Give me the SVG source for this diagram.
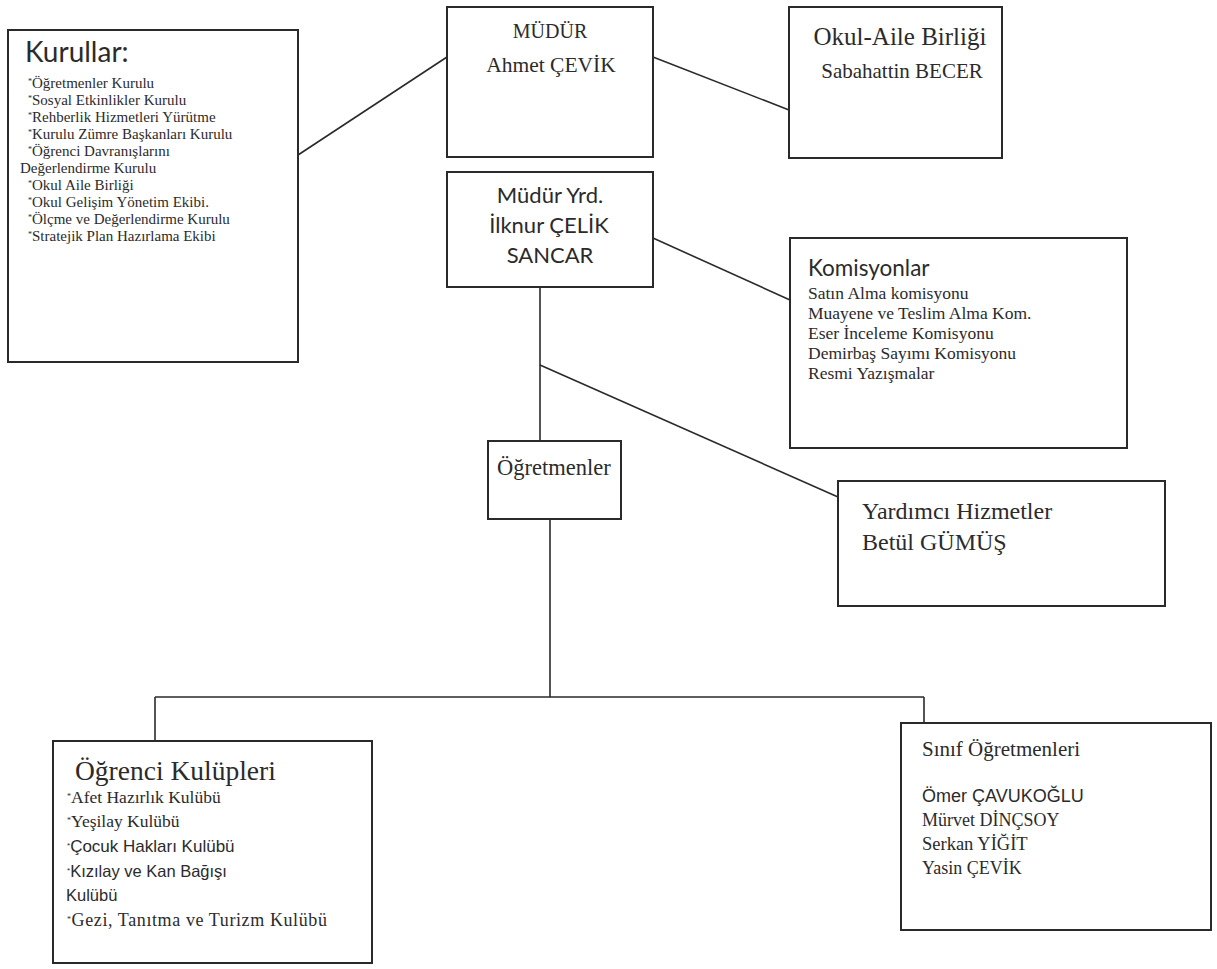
<svg xmlns="http://www.w3.org/2000/svg" width="1217" height="969" viewBox="0 0 1217 969">
<style>
.box{fill:#fff;stroke:#2a2a2a;stroke-width:2}
.ln{stroke:#2a2a2a;stroke-width:1.6;fill:none}
.cam{font-family:"Liberation Serif","DejaVu Serif",serif;fill:#2b2b2b}
.cal{font-family:Lato,"Open Sans","Liberation Sans",sans-serif;fill:#2b2b2b}
.tnr{font-family:"Liberation Serif",serif;fill:#2b2b2b}
.ari{font-family:"Liberation Sans",Arial,sans-serif;fill:#2b2b2b}
.ast{font-size:8px}
</style>
<rect width="1217" height="969" fill="#fff"/>
<g id="connectors">
<line class="ln" x1="298" y1="155" x2="447" y2="57"/>
<line class="ln" x1="653" y1="57" x2="789" y2="110"/>
<line class="ln" x1="653" y1="238" x2="790" y2="300"/>
<line class="ln" x1="540" y1="287" x2="540" y2="441"/>
<line class="ln" x1="540" y1="365" x2="838" y2="497"/>
<line class="ln" x1="550" y1="519" x2="550" y2="697"/>
<line class="ln" x1="155" y1="697" x2="924" y2="697"/>
<line class="ln" x1="155" y1="697" x2="155" y2="741"/>
<line class="ln" x1="924" y1="697" x2="924" y2="723"/>
</g>
<g id="kurullar">
<rect class="box" x="8" y="30" width="290" height="332"/>
<text class="cal" x="25" y="62" font-size="28">Kurullar:</text>
<g class="tnr" font-size="15">
<text x="28" y="88"><tspan class="ast" dy="-4">*</tspan><tspan dy="4">Öğretmenler Kurulu</tspan></text>
<text x="28" y="105"><tspan class="ast" dy="-4">*</tspan><tspan dy="4">Sosyal Etkinlikler Kurulu</tspan></text>
<text x="28" y="122"><tspan class="ast" dy="-4">*</tspan><tspan dy="4">Rehberlik Hizmetleri Yürütme</tspan></text>
<text x="28" y="139"><tspan class="ast" dy="-4">*</tspan><tspan dy="4">Kurulu Zümre Başkanları Kurulu</tspan></text>
<text x="28" y="156"><tspan class="ast" dy="-4">*</tspan><tspan dy="4">Öğrenci Davranışlarını</tspan></text>
<text x="20" y="173">Değerlendirme Kurulu</text>
<text x="28" y="190"><tspan class="ast" dy="-4">*</tspan><tspan dy="4">Okul Aile Birliği</tspan></text>
<text x="28" y="207"><tspan class="ast" dy="-4">*</tspan><tspan dy="4">Okul Gelişim Yönetim Ekibi.</tspan></text>
<text x="28" y="224"><tspan class="ast" dy="-4">*</tspan><tspan dy="4">Ölçme ve Değerlendirme Kurulu</tspan></text>
<text x="28" y="241"><tspan class="ast" dy="-4">*</tspan><tspan dy="4">Stratejik Plan Hazırlama Ekibi</tspan></text>
</g>
</g>
<g id="mudur">
<rect class="box" x="447" y="7" width="206" height="150"/>
<text class="cam" x="550" y="38" font-size="20" text-anchor="middle">MÜDÜR</text>
<text class="cam" x="551" y="72" font-size="21.5" text-anchor="middle">Ahmet ÇEVİK</text>
</g>
<g id="okul-aile">
<rect class="box" x="789" y="7" width="213" height="151"/>
<text class="cam" x="900" y="45" font-size="25" text-anchor="middle">Okul-Aile Birliği</text>
<text class="cam" x="902" y="78" font-size="21" text-anchor="middle">Sabahattin BECER</text>
</g>
<g id="mudur-yrd">
<rect class="box" x="447" y="172" width="206" height="115"/>
<text class="cal" x="550" y="203" font-size="22" text-anchor="middle">Müdür Yrd.</text>
<text class="cal" x="549" y="233" font-size="22" text-anchor="middle">İlknur ÇELİK</text>
<text class="cal" x="550" y="263" font-size="22" text-anchor="middle">SANCAR</text>
</g>
<g id="komisyonlar">
<rect class="box" x="790" y="238" width="337" height="210"/>
<text class="cal" x="808" y="276" font-size="22.5">Komisyonlar</text>
<g class="tnr" font-size="17.5">
<text x="808" y="299">Satın Alma komisyonu</text>
<text x="808" y="319">Muayene ve Teslim Alma Kom.</text>
<text x="808" y="339">Eser İnceleme Komisyonu</text>
<text x="808" y="359">Demirbaş Sayımı Komisyonu</text>
<text x="808" y="379">Resmi Yazışmalar</text>
</g>
</g>
<g id="ogretmenler">
<rect class="box" x="488" y="441" width="133" height="78"/>
<text class="cam" x="497" y="475" font-size="22.5">Öğretmenler</text>
</g>
<g id="yardimci">
<rect class="box" x="838" y="481" width="327" height="125"/>
<text class="cam" x="862" y="519" font-size="24">Yardımcı Hizmetler</text>
<text class="cam" x="862" y="550" font-size="24">Betül GÜMÜŞ</text>
</g>
<g id="ogrenci-kulupleri">
<rect class="box" x="53" y="741" width="319" height="222"/>
<text class="cam" x="75" y="780" font-size="27.5">Öğrenci Kulüpleri</text>
<text class="tnr" x="67" y="803" font-size="17.5"><tspan class="ast" dy="-4">*</tspan><tspan dy="4">Afet Hazırlık Kulübü</tspan></text>
<text class="tnr" x="67" y="827" font-size="17.5"><tspan class="ast" dy="-4">*</tspan><tspan dy="4">Yeşilay Kulübü</tspan></text>
<text class="ari" x="67" y="852" font-size="17"><tspan class="ast" dy="-4">*</tspan><tspan dy="4">Çocuk Hakları Kulübü</tspan></text>
<text class="ari" x="67" y="877" font-size="16.5"><tspan class="ast" dy="-4">*</tspan><tspan dy="4">Kızılay ve Kan Bağışı</tspan></text>
<text class="ari" x="66" y="901" font-size="16.5">Kulübü</text>
<text class="tnr" x="67" y="926" font-size="18" letter-spacing="0.6"><tspan class="ast" dy="-4">*</tspan><tspan dy="4">Gezi, Tanıtma ve Turizm Kulübü</tspan></text>
</g>
<g id="sinif-ogretmenleri">
<rect class="box" x="901" y="723" width="310" height="207"/>
<text class="cam" x="922" y="756" font-size="21">Sınıf Öğretmenleri</text>
<text class="ari" x="922" y="802" font-size="18">Ömer ÇAVUKOĞLU</text>
<text class="cam" x="922" y="826" font-size="18">Mürvet DİNÇSOY</text>
<text class="cam" x="922" y="850" font-size="18.5">Serkan YİĞİT</text>
<text class="cam" x="922" y="874" font-size="18">Yasin ÇEVİK</text>
</g>
</svg>
